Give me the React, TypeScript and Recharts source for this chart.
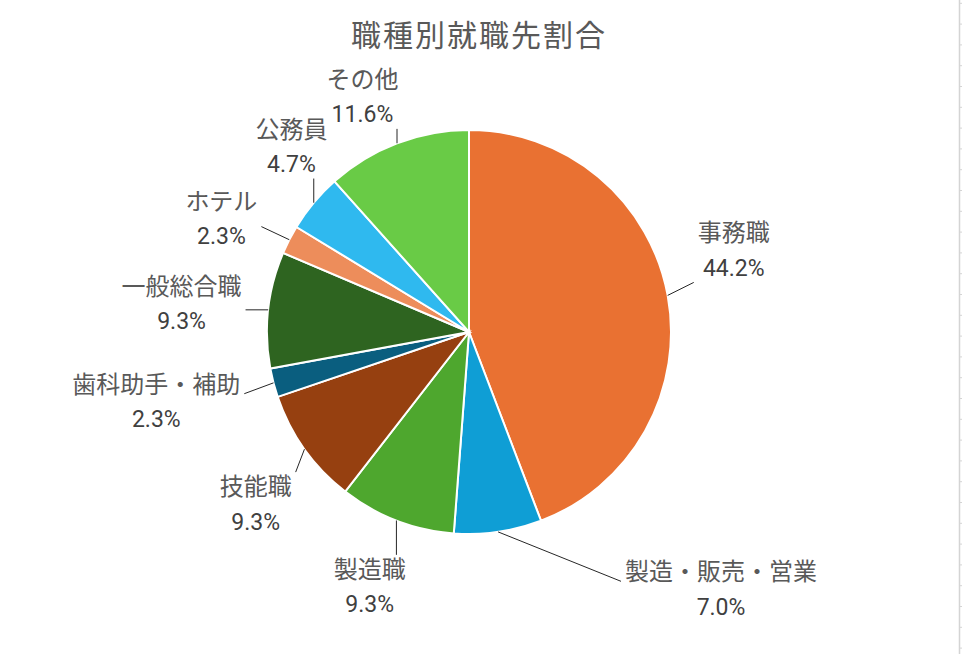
import { Cell, Pie, PieChart } from 'recharts'

const categories = ['事務職', '製造・販売・営業', '製造職', '技能職', '歯科助手・補助', '一般総合職', 'ホテル', '公務員', 'その他']
const shares = [44.2, 7.0, 9.3, 9.3, 2.3, 9.3, 2.3, 4.7, 11.6]
const colors = ['#E97132', '#0F9ED5', '#4EA72E', '#964010', '#0A5E7F', '#2E6420', '#ED8D5B', '#2FB9EF', '#69CB46']

// label placement: nudge from the radial point at outerRadius + 55
const labelNudge = [
  [12, -35],
  [215, 3],
  [-7, 15],
  [-4, 23],
  [-64, 5],
  [-32, 0],
  [-19, 4],
  [20, -21],
  [-15, 5],
]

const data = categories.map((name, i) => ({ name, value: shares[i] }))

const RAD = Math.PI / 180
const FONT = "Roboto, 'Noto Sans CJK JP', sans-serif"

const clamp = (v: number, lo: number, hi: number) => Math.min(Math.max(v, lo), hi)

function SliceLabel(props: any) {
  const { cx, cy, midAngle, outerRadius, index, name, value } = props
  const cos = Math.cos(-midAngle * RAD)
  const sin = Math.sin(-midAngle * RAD)
  const ex = cx + outerRadius * cos
  const ey = cy + outerRadius * sin
  const r = outerRadius + 55
  const [nx, ny] = labelNudge[index]
  const bx = cx + r * cos + nx
  const by = cy + r * sin + ny
  const hw = Math.max(name.length * 24, 60) / 2 + 4
  const hh = 32
  const left = bx - hw
  const right = bx + hw
  const hgap = ex < left ? left - ex : ex > right ? ex - right : 0
  const vgap = ey < by - hh ? by - hh - ey : ey > by + hh ? ey - by - hh : 0
  const ax = clamp(ex, left, right)
  let ay = clamp(ey, by - hh, by + hh)
  if (hgap > 0 && (vgap === 0 || hgap > 3 * vgap)) {
    ay = clamp(ey, by - 8, by + 8)
  }
  return (
    <g>
      <line x1={ex} y1={ey} x2={ax} y2={ay} stroke="#262626" strokeWidth={1} />
      <text x={bx} y={by - 17} textAnchor="middle" dominantBaseline="central" fontFamily={FONT} fontSize={24} fill="#595959">
        {name}
      </text>
      <text x={bx} y={by + 18} textAnchor="middle" dominantBaseline="central" fontFamily={FONT} fontSize={23} fill="#404040">
        {`${value.toFixed(1)}%`}
      </text>
    </g>
  )
}

function SheetEdge() {
  const rows = Array.from({ length: 32 }, (_, k) => 3.3 + k * 20.8)
  return (
    <svg width={962} height={654} style={{ position: 'absolute', left: 0, top: 0, pointerEvents: 'none' }}>
      <line x1={959.5} y1={0} x2={959.5} y2={654} stroke="#d4d4d4" strokeWidth={1.5} />
      {rows.map((y) => (
        <line key={y} x1={960} y1={y} x2={962} y2={y} stroke="#d4d4d4" strokeWidth={1} />
      ))}
    </svg>
  )
}

export default function App() {
  return (
    <div style={{ position: 'absolute', left: 0, top: 0, width: 962, height: 654, background: '#fff', overflow: 'hidden' }}>
      <div
        style={{
          position: 'absolute',
          left: 0,
          top: 14,
          width: 958,
          textAlign: 'center',
          fontFamily: FONT,
          fontSize: 30,
          letterSpacing: 2,
          color: '#595959',
          lineHeight: '44px',
        }}
      >
        職種別就職先割合
      </div>
      <div style={{ position: 'absolute', left: 0, top: 0, width: 962, height: 654 }}>
        <PieChart width={962} height={654} margin={{ top: 0, right: 0, bottom: 0, left: 0 }}>
          <Pie
            data={data}
            dataKey="value"
            nameKey="name"
            cx={469}
            cy={332}
            outerRadius={202}
            startAngle={90}
            endAngle={-270}
            stroke="#fff"
            strokeWidth={2}
            label={SliceLabel}
            labelLine={false}
            isAnimationActive={false}
          >
            {data.map((d, i) => (
              <Cell key={d.name} fill={colors[i]} />
            ))}
          </Pie>
        </PieChart>
      </div>
      <SheetEdge />
    </div>
  )
}
